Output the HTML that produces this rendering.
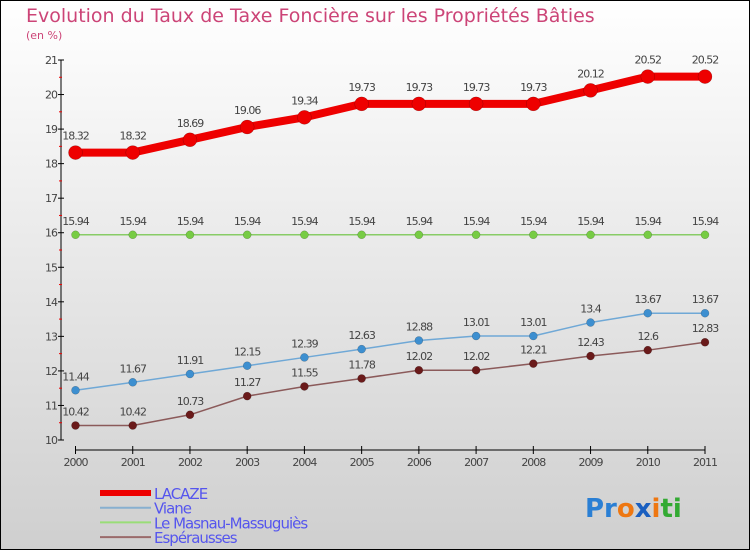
<!DOCTYPE html>
<html><head><meta charset="utf-8"><style>
body{margin:0}
svg{display:block;font-family:"DejaVu Sans","Liberation Sans",sans-serif}
</style></head><body>
<svg id="c" width="750" height="550" xmlns="http://www.w3.org/2000/svg">
<defs><linearGradient id="bg" x1="0" y1="0" x2="0" y2="1"><stop offset="0" stop-color="#ffffff"/><stop offset="1" stop-color="#cfcfcf"/></linearGradient></defs>
<rect x="0.5" y="0.5" width="749" height="549" fill="url(#bg)" stroke="#000"/>
<text x="26" y="22" font-size="19" fill="#cc4477">Evolution du Taux de Taxe Foncière sur les Propriétés Bâties</text>
<text x="26" y="39" font-size="11" fill="#cc4477">(en %)</text>
<g id="axes"></g><g id="series"></g><g id="legend"></g>
<text x="585" y="517" font-size="26" font-weight="bold"><tspan fill="#2a7fd4">Pr</tspan><tspan fill="#ee7711">o</tspan><tspan fill="#1a5fc0">x</tspan><tspan fill="#ee7711">i</tspan><tspan fill="#33aa33">ti</tspan></text>
</svg>
<script>
const years=[2000,2001,2002,2003,2004,2005,2006,2007,2008,2009,2010,2011];
const yTicks=[10,11,12,13,14,15,16,17,18,19,20,21];
const lacaze=[18.32,18.32,18.69,19.06,19.34,19.73,19.73,19.73,19.73,20.12,20.52,20.52];
const viane=[11.44,11.67,11.91,12.15,12.39,12.63,12.88,13.01,13.01,13.4,13.67,13.67];
const masnau=[15.94,15.94,15.94,15.94,15.94,15.94,15.94,15.94,15.94,15.94,15.94,15.94];
const esper=[10.42,10.42,10.73,11.27,11.55,11.78,12.02,12.02,12.21,12.43,12.6,12.83];
const NS="http://www.w3.org/2000/svg";
const xs=i=>75.5+i*(705-75.5)/11;
const ys=v=>440-(v-10)*(380/11);
function mk(t,a,p,txt){const e=document.createElementNS(NS,t);for(const k in a)e.setAttribute(k,a[k]);if(txt!==undefined)e.textContent=txt;p.appendChild(e);return e;}
const ax=document.getElementById('axes');
let e=mk('line',{x1:61,y1:60,x2:61,y2:440,stroke:'#000'},ax);


e=mk('line',{x1:75.5,y1:450,x2:705,y2:450,stroke:'#000'},ax);


yTicks.forEach(v=>{
 const y=ys(v);
 mk('line',{x1:58,y1:y,x2:64,y2:y,stroke:'#000'},ax);
 if(v<21) mk('line',{x1:59,y1:ys(v+0.5),x2:62,y2:ys(v+0.5),stroke:'#e00'},ax);
 const t=mk('text',{x:57,y:y+4,'font-size':11,'text-anchor':'end',fill:'#444','letter-spacing':'-1'},ax,String(v));
 
 
});
years.forEach((yr,i)=>{
 const x=xs(i);
 mk('line',{x1:x,y1:446,x2:x,y2:454,stroke:'#000'},ax);
 const t=mk('text',{x:x,y:466,'font-size':11,'text-anchor':'middle',fill:'#444','letter-spacing':'-1'},ax,String(yr));
 
 
});
const sg=document.getElementById('series');
function series(vals,color,w,r,name,dot){
 const g=mk('g',{},sg);
 
 
 const l=mk('polyline',{points:vals.map((v,i)=>xs(i)+','+ys(v)).join(' '),fill:'none',stroke:color,'stroke-width':w,'stroke-linejoin':'round'},g);
 
 
 vals.forEach((v,i)=>{
  const c=mk('circle',{cx:xs(i),cy:ys(v),r:r,fill:dot,stroke:'rgba(0,0,0,0.3)','stroke-width':0.5},g);
  
  
  const t=mk('text',{x:xs(i),y:ys(v)-(r+6),'font-size':11,'text-anchor':'middle',fill:'#444','letter-spacing':'-1'},g,String(v));
  
  
 });
}
series(masnau,'#88cc66',1.5,4,'le-masnau','#77cc44');
series(viane,'#6fa8d6',1.5,4,'viane','#3d8fd0');
series(esper,'#8b5a5a',1.5,4,'esperausses','#6a1a1a');
series(lacaze,'#ee0000',8,7,'lacaze','#ee0000');
const lg=document.getElementById('legend');
const leg=[['LACAZE','#ee0000',6],['Viane','#88b0d0',2],['Le Masnau-Massuguiès','#99dd77',2],['Espérausses','#9a6a6a',2]];
leg.forEach((d,i)=>{
 const y=493+i*14.7;
 const g=mk('g',{},lg);
 
 
 mk('line',{x1:100,y1:y,x2:151,y2:y,stroke:d[1],'stroke-width':d[2]},g);
 mk('text',{x:154,y:y+6,'font-size':15,fill:'#5555ee','letter-spacing':'-1'},g,d[0]);
});
</script>
</body></html>
